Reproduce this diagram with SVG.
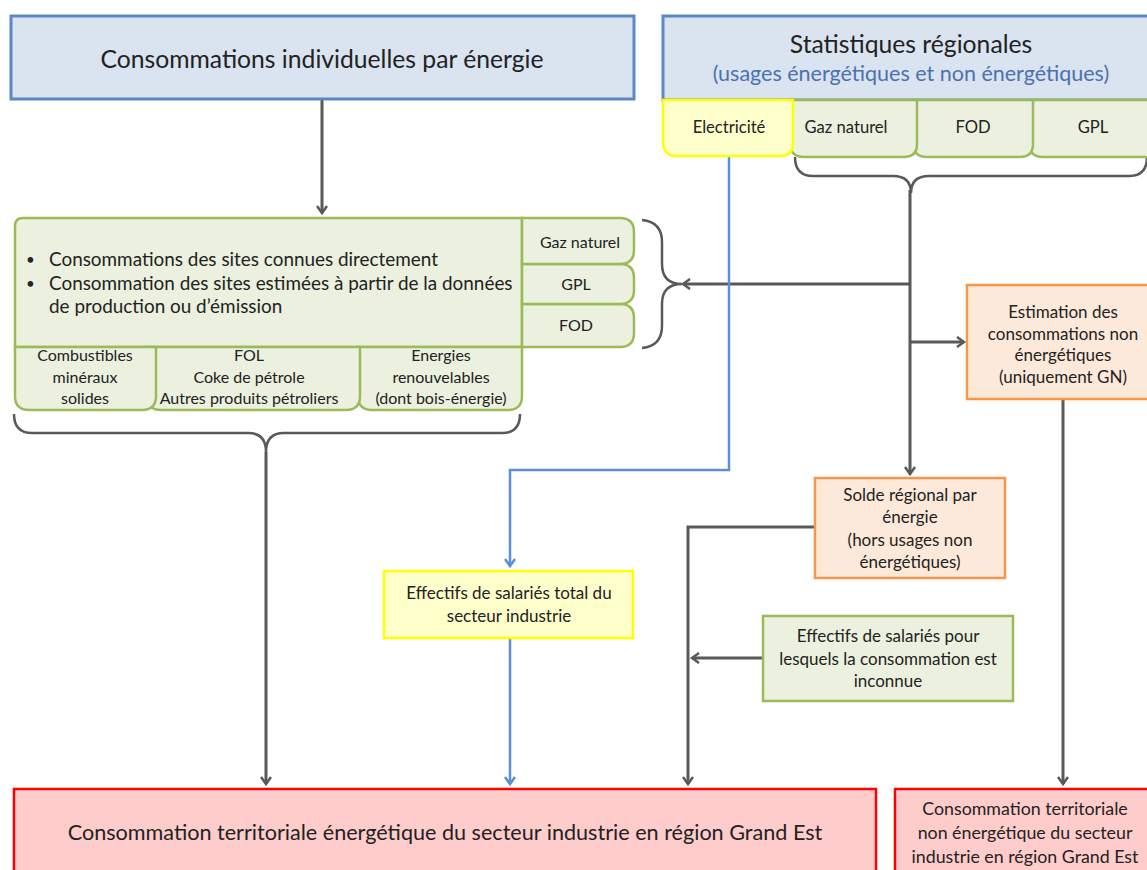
<svg xmlns="http://www.w3.org/2000/svg" width="1147" height="870" viewBox="0 0 1147 870">
<style>
text{font-family:Lato,"Open Sans","Liberation Sans",sans-serif;fill:#222;text-anchor:middle}
.blue{fill:#dae3f0;stroke:#5b88c4;stroke-width:3}
.grn{fill:#ebf1de;stroke:#9bbb59;stroke-width:2.5}
.yel{fill:#ffffcc;stroke:#ffff00;stroke-width:2.5}
.org{fill:#fde9d9;stroke:#f79646;stroke-width:2.5}
.red{fill:#ffcccc;stroke:#ff0000;stroke-width:2.5}
.ln{fill:none;stroke:#595959;stroke-width:3}
.bl{fill:none;stroke:#5b8fd8;stroke-width:2.5}
.br{fill:none;stroke:#595959;stroke-width:2.5}
.s13{font-size:16px}
.s14{font-size:16.6px}
.s17{font-size:17px}
</style>
<defs>
<marker id="ag" markerWidth="12" markerHeight="12" refX="9" refY="6" orient="auto" markerUnits="userSpaceOnUse">
<path d="M2,1 L9,6 L2,11" fill="none" stroke="#595959" stroke-width="2.5"/>
</marker>
<marker id="ab" markerWidth="12" markerHeight="12" refX="9" refY="6" orient="auto" markerUnits="userSpaceOnUse">
<path d="M2,1 L9,6 L2,11" fill="none" stroke="#5b8fd8" stroke-width="2.5"/>
</marker>
</defs>

<g id="connectors">
<path class="ln" d="M322,99 L322,213" marker-end="url(#ag)"/>
<path class="br" d="M795,157 Q795,176 813,176 L893,176 Q911,176 911,193 Q911,176 929,176 L1129,176 Q1147,176 1147,157"/>
<path class="br" d="M642,220 Q662,222 662,242 L662,264 Q662,284 682,284 Q662,284 662,304 L662,326 Q662,346 642,348"/>
<path class="br" d="M14,414 Q14,433 32,433 L248,433 Q266,433 266,452 Q266,433 284,433 L502,433 Q520,433 520,414"/>
<path class="ln" d="M910,190 L910,474" marker-end="url(#ag)"/>
<path class="ln" d="M910,284 L683,284" marker-end="url(#ag)"/>
<path class="ln" d="M910,342 L964,342" marker-end="url(#ag)"/>
<path class="ln" d="M266,452 L266,784" marker-end="url(#ag)"/>
<path class="ln" d="M1063,399 L1063,784" marker-end="url(#ag)"/>
<path class="ln" d="M815,527 L688,527 L688,784" marker-end="url(#ag)"/>
<path class="ln" d="M763,658 L692,658" marker-end="url(#ag)"/>
<path class="bl" d="M729,156 L729,470 L510,470 L510,566" marker-end="url(#ab)"/>
<path class="bl" d="M510,638 L510,784" marker-end="url(#ab)"/>
</g>

<g id="n-indiv">
<rect class="blue" x="11" y="16" width="623" height="83"/>
<text x="322" y="68" style="font-size:24.7px">Consommations individuelles par énergie</text>
</g>

<g id="n-stats">
<rect class="blue" x="663" y="16" width="490" height="84"/>
<text x="911" y="53" style="font-size:24.7px">Statistiques régionales</text>
<text x="911" y="81" style="font-size:21.5px;fill:#4a72b0">(usages énergétiques et non énergétiques)</text>
</g>

<g id="t-gpl">
<path class="grn" d="M1029,100 L1155,100 L1155,157 L1043,157 Q1029,157 1029,143 Z"/>
<text class="s14" x="1093" y="133">GPL</text>
</g>
<g id="t-fod">
<path class="grn" d="M913,100 L1033,100 L1033,144 Q1033,157 1020,157 L927,157 Q913,157 913,143 Z"/>
<text class="s14" x="973" y="133">FOD</text>
</g>
<g id="t-gaz">
<path class="grn" d="M790,100 L917,100 L917,144 Q917,157 904,157 L804,157 Q790,157 790,143 Z"/>
<text class="s14" x="846" y="133">Gaz naturel</text>
</g>
<g id="t-elec">
<path class="yel" d="M663,100 L793,100 L793,143 Q793,156 780,156 L677,156 Q663,156 663,142 Z"/>
<text class="s14" x="729" y="133">Electricité</text>
</g>

<g id="n-sites">
<path class="grn" d="M15,226 Q15,218 23,218 L522,218 L522,347 L15,347 Z"/>
<text style="font-size:15px;text-anchor:start" x="26" y="265">•</text>
<text style="font-size:18.9px;text-anchor:start" x="49" y="266">Consommations des sites connues directement</text>
<text style="font-size:15px;text-anchor:start" x="26" y="289">•</text>
<text style="font-size:18.9px;text-anchor:start" x="49" y="290">Consommation des sites estimées à partir de la données</text>
<text style="font-size:18.9px;text-anchor:start" x="49" y="313">de production ou d’émission</text>
</g>
<g id="s-fod">
<path class="grn" d="M522,304 L620,304 Q634,304 634,318 L634,333 Q634,347 620,347 L522,347 Z"/>
<text class="s13" x="576" y="331">FOD</text>
</g>
<g id="s-gpl">
<path class="grn" d="M522,264 L620,264 Q634,264 634,278 L634,290 Q634,304 620,304 L522,304 Z"/>
<text class="s13" x="576" y="290">GPL</text>
</g>
<g id="s-gaz">
<path class="grn" d="M522,218 L620,218 Q634,218 634,232 L634,250 Q634,264 620,264 L522,264 Z"/>
<text class="s13" x="580" y="248">Gaz naturel</text>
</g>
<g id="s-enr">
<path class="grn" d="M358,347 L522,347 L522,396 Q522,410 508,410 L372,410 Q358,410 358,396 Z"/>
<text class="s13" x="441" y="361">Energies</text>
<text class="s13" x="441" y="383">renouvelables</text>
<text class="s13" x="441" y="404">(dont bois-énergie)</text>
</g>
<g id="s-fol">
<path class="grn" d="M147,347 L360,347 L360,396 Q360,410 346,410 L161,410 Q147,410 147,396 Z"/>
<text class="s13" x="249" y="361">FOL</text>
<text class="s13" x="249" y="383">Coke de pétrole</text>
<text class="s13" x="249" y="404">Autres produits pétroliers</text>
</g>
<g id="s-cms">
<path class="grn" d="M15,347 L156,347 L156,396 Q156,410 142,410 L29,410 Q15,410 15,396 Z"/>
<text class="s13" x="85" y="361">Combustibles</text>
<text class="s13" x="85" y="383">minéraux</text>
<text class="s13" x="85" y="404">solides</text>
</g>

<g id="n-estim">
<rect class="org" x="967" y="285" width="186" height="114"/>
<text class="s17" x="1063" y="318">Estimation des</text>
<text class="s17" x="1063" y="340">consommations non</text>
<text class="s17" x="1063" y="361">énergétiques</text>
<text class="s17" x="1063" y="383">(uniquement GN)</text>
</g>

<g id="n-solde">
<rect class="org" x="815" y="478" width="190" height="100"/>
<text class="s17" x="910" y="501">Solde régional par</text>
<text class="s17" x="910" y="523">énergie</text>
<text class="s17" x="910" y="546">(hors usages non</text>
<text class="s17" x="910" y="568">énergétiques)</text>
</g>

<g id="n-efftot">
<rect class="yel" x="384" y="571" width="249" height="67"/>
<text class="s17" x="509" y="599">Effectifs de salariés total du</text>
<text class="s17" x="509" y="622">secteur industrie</text>
</g>

<g id="n-effinc">
<rect class="grn" x="763" y="616" width="250" height="85"/>
<text class="s17" x="888" y="642">Effectifs de salariés pour</text>
<text class="s17" x="888" y="665">lesquels la consommation est</text>
<text class="s17" x="888" y="687">inconnue</text>
</g>

<g id="n-cte">
<rect class="red" x="14" y="789" width="862" height="90"/>
<text x="445" y="840" style="font-size:21.6px">Consommation territoriale énergétique du secteur industrie en région Grand Est</text>
</g>

<g id="n-ctne">
<rect class="red" x="895" y="789" width="260" height="90"/>
<text x="1025" y="815" style="font-size:17.8px">Consommation territoriale</text>
<text x="1025" y="839" style="font-size:17.8px">non énergétique du secteur</text>
<text x="1025" y="863" style="font-size:17.8px">industrie en région Grand Est</text>
</g>
</svg>
